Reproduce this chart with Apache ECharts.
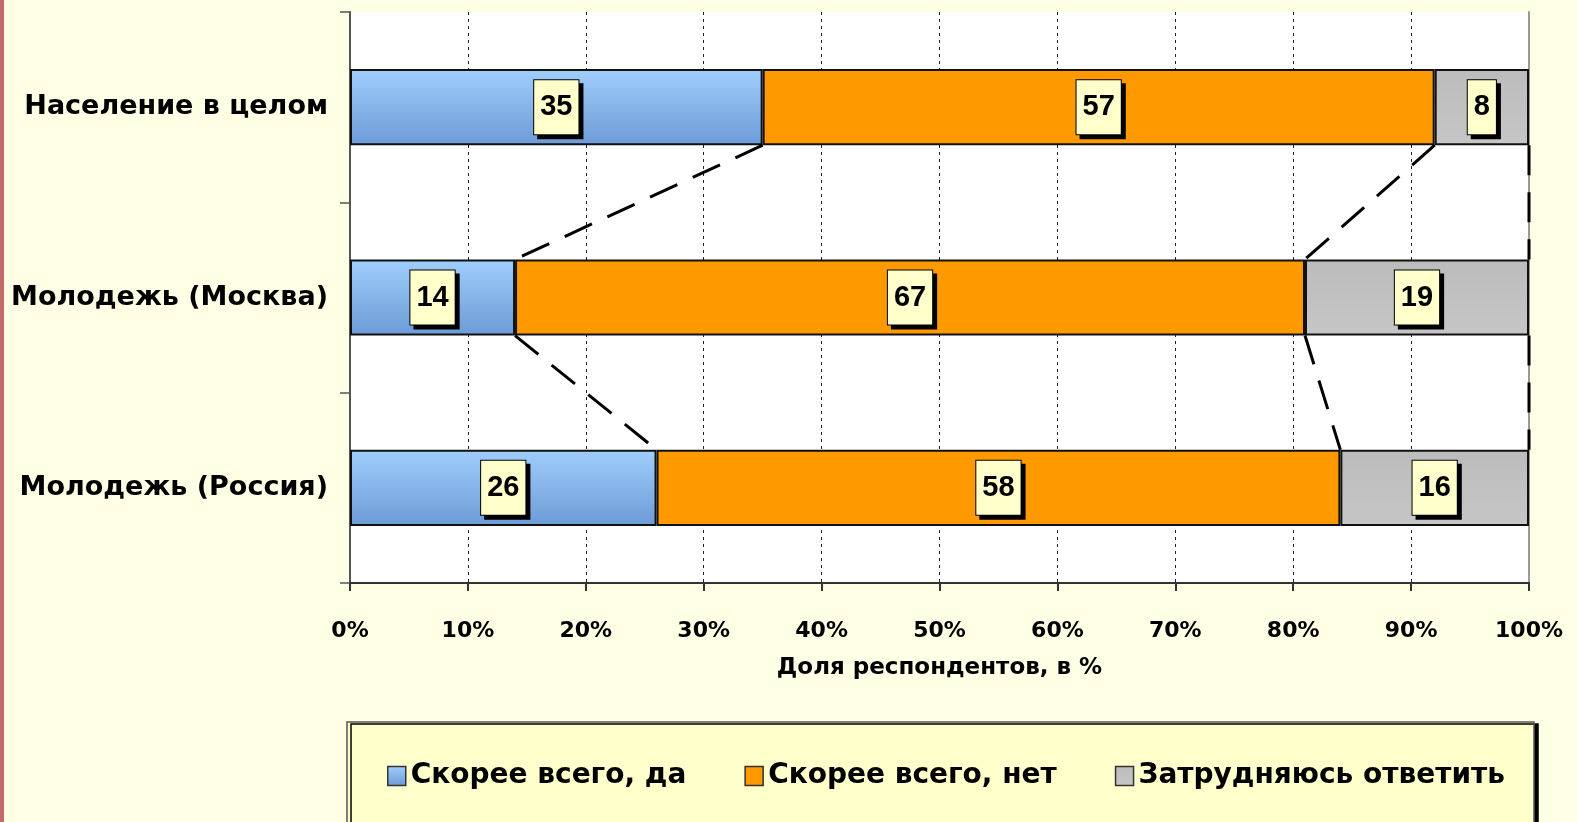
<!DOCTYPE html>
<html><head><meta charset="utf-8">
<script src="https://cdn.jsdelivr.net/npm/echarts@6/dist/echarts.min.js"></script>
<style>
html,body{margin:0;padding:0;background:#FFFFE6;}
#c{width:1577px;height:822px;box-sizing:border-box;border-left:4px solid #C46A6A;}
</style></head>
<body><div id="c"></div>
<script>
const categories = ['Население в целом', 'Молодежь (Москва)', 'Молодежь (Россия)'];
const seriesNames = ['Скорее всего, да', 'Скорее всего, нет', 'Затрудняюсь ответить'];
const yesValues = [35, 14, 26];
const noValues = [57, 67, 58];
const hardValues = [8, 19, 16];
const xTicks = [0, 10, 20, 30, 40, 50, 60, 70, 80, 90, 100];
const axisTitle = 'Доля респондентов, в %';

const BAR_FRAC = 0.4;
const FONT = '"Liberation Sans", Arial, sans-serif';
const WIDE = '"DejaVu Sans", "Liberation Sans", sans-serif';

// connectors between adjacent bars at the cumulative boundaries
const stacks = [yesValues, noValues, hardValues];
const connectors = [];
for (let i = 0; i < categories.length - 1; i++) {
  let a = 0, b = 0;
  for (let s = 0; s < stacks.length; s++) {
    a += stacks[s][i]; b += stacks[s][i + 1];
    connectors.push([a, b, i]);
  }
}

const blue = new echarts.graphic.LinearGradient(0, 0, 0, 1, [
  {offset: 0, color: '#A0CEFC'}, {offset: 1, color: '#6C9BD7'}]);
const gray = new echarts.graphic.LinearGradient(0, 0, 0, 1, [
  {offset: 0, color: '#BCBCBC'}, {offset: 1, color: '#C6C6C6'}]);
const colors = [blue, '#FF9900', gray];

const labelStyle = {
  show: true, position: 'inside', formatter: '{c}',
  fontFamily: FONT, fontWeight: 'bold', fontSize: 29, color: '#000',
  backgroundColor: '#FFFFCC', borderColor: '#000', borderWidth: 1,
  padding: [11, 6, 11, 6], lineHeight: 32,
  shadowColor: '#000', shadowOffsetX: 4, shadowOffsetY: 4, shadowBlur: 0
};

const chart = echarts.init(document.getElementById('c'), null, {renderer: 'canvas'});
chart.setOption({
  backgroundColor: '#FFFFE6',
  animation: false,
  textStyle: {fontFamily: FONT},
  grid: {left: 346, right: 48, top: 12, bottom: 239, show: true, backgroundColor: '#FFFFFF', borderWidth: 0},
  graphic: [{
    type: 'rect', z: -1,
    shape: {x: 343, y: 722, width: 1187, height: 120},
    style: {fill: '#FFFFCC', stroke: '#555', lineWidth: 1.5, shadowColor: '#000', shadowOffsetX: 4, shadowOffsetY: 2, shadowBlur: 0}
  }],
  legend: {
    data: seriesNames, left: 378, top: 757, icon: 'rect',
    itemWidth: 18, itemHeight: 19, itemGap: 58, itemTextGap: 5,
    textStyle: {fontFamily: WIDE, fontWeight: 'bold', fontSize: 28, color: '#000'},
    itemStyle: {borderColor: '#333', borderWidth: 1.5}
  },
  xAxis: [{
    type: 'value', min: 0, max: 100, interval: 10,
    name: axisTitle, nameLocation: 'middle', nameGap: 74,
    nameTextStyle: {fontFamily: WIDE, fontWeight: 'bold', fontSize: 23, color: '#000'},
    axisLine: {show: true, lineStyle: {color: '#333', width: 2}},
    axisTick: {show: true, length: 8, lineStyle: {color: '#333', width: 2}},
    axisLabel: {formatter: '{value}%', fontFamily: WIDE, fontWeight: 'bold', fontSize: 22, color: '#000', margin: 37},
    splitLine: {show: true, lineStyle: {color: '#222', width: 1, type: [3, 4]}}
  }],
  yAxis: [{
    type: 'category', data: categories, inverse: true,
    axisLine: {show: true, lineStyle: {color: '#555', width: 2}},
    axisTick: {show: true, length: 10, lineStyle: {color: '#555', width: 1.5}},
    axisLabel: {fontFamily: WIDE, fontWeight: 'bold', fontSize: 27, color: '#000', margin: 22, padding: [11, 0, 0, 0]},
    splitLine: {show: false}
  }, {
    type: 'category', data: categories, inverse: true, position: 'right',
    axisLine: {show: true, lineStyle: {color: '#999', width: 2}},
    axisTick: {show: false}, axisLabel: {show: false}, splitLine: {show: false}
  }],
  series: [
    ...stacks.map((vals, k) => ({
      name: seriesNames[k], type: 'bar', stack: 'total', data: vals,
      barWidth: (BAR_FRAC * 100) + '%',
      itemStyle: {color: colors[k], borderColor: '#111', borderWidth: 2},
      label: labelStyle, z: 3
    })),
    {
      type: 'custom', coordinateSystem: 'cartesian2d', silent: true, clip: false, z: 4,
      data: connectors, encode: {x: 0, y: 2},
      renderItem: function (params, api) {
        const v1 = api.value(0), v2 = api.value(1), i = api.value(2);
        const p1 = api.coord([v1, i]);
        const p2 = api.coord([v2, i + 1]);
        const half = api.size([0, 1])[1] * BAR_FRAC / 2;
        return {
          type: 'line',
          shape: {x1: p1[0], y1: p1[1] + half, x2: p2[0], y2: p2[1] - half},
          style: {stroke: '#000', lineWidth: 3, lineDash: [30, 17]}
        };
      }
    }
  ]
});
</script></body></html>
